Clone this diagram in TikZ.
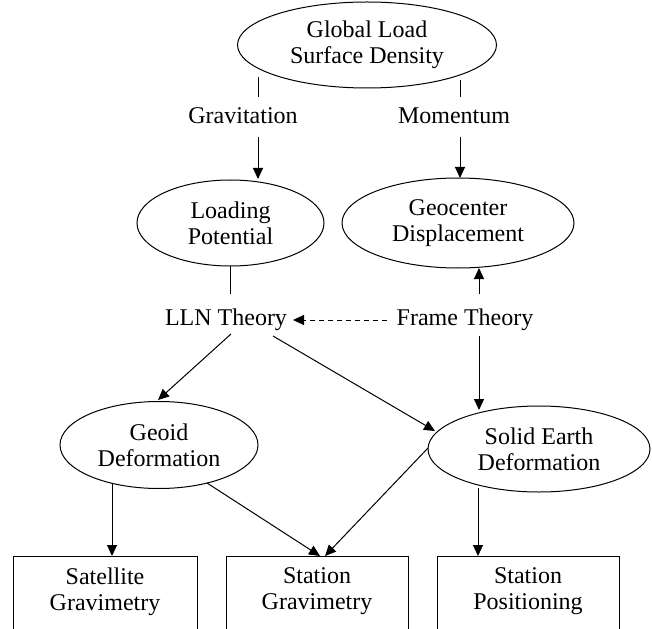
\documentclass[tikz,border=0pt]{standalone}
\usepackage{fontspec}
\setmainfont{Liberation Serif}
\usetikzlibrary{arrows.meta,shapes.geometric}
\begin{document}
\begin{tikzpicture}[x=1pt,y=-1pt,
  every node/.style={font=\fontsize{24}{26}\selectfont, align=center},
  oval/.style={draw, ellipse, inner sep=0pt, line width=1pt},
  box/.style={draw, rectangle, anchor=north, inner xsep=0pt, inner ysep=11pt, text depth=80pt, line width=1pt},
  lbl/.style={inner sep=0pt, anchor=base},
  conn/.style={line width=1pt},
  arr/.style={conn, -{Triangle[length=11pt,width=10pt]}},
  dsh/.style={arr, dash pattern=on 5pt off 4pt}
]
\useasboundingbox (0,0) rectangle (652,628);

% nodes
\node[oval, minimum width=259pt, minimum height=86pt] (glob) at (367,45) {Global Load\\Surface Density};
\node[lbl] (grav) at (243,124) {Gravitation};
\node[lbl] (mom) at (454,124) {Momentum};
\node[oval, minimum width=187pt, minimum height=86pt] (load) at (230.5,223) {Loading\\Potential};
\node[oval, minimum width=232pt, minimum height=90pt] (geoc) at (458,223) {Geocenter\\Displacement};
\node[lbl] (lln) at (226,325) {LLN Theory};
\node[lbl] (frame) at (465,325) {Frame Theory};
\node[oval, minimum width=198pt, minimum height=87pt] (geoid) at (159,445) {Geoid\\Deformation};
\node[oval, minimum width=222pt, minimum height=86pt] (solid) at (539,449) {Solid Earth\\Deformation};
\node[box, minimum width=184pt] (sat) at (105,556) {Satellite\\Gravimetry};
\node[box, minimum width=182pt] (sgrav) at (317,556) {Station\\Gravimetry};
\node[box, minimum width=182pt] (spos) at (528,556) {Station\\Positioning};

% connector end points
\coordinate (gA) at (258,77);  \coordinate (gB) at (258,97);
\coordinate (gC) at (258,137); \coordinate (gD) at (258,179);
\coordinate (mA) at (460,80);  \coordinate (mB) at (460,97);
\coordinate (mC) at (460,137); \coordinate (mD) at (460,178);
\coordinate (lA) at (230,266); \coordinate (lB) at (230,294);
\coordinate (fA) at (479,294); \coordinate (fB) at (479,268);
\coordinate (fC) at (387,320); \coordinate (fD) at (293,320);
\coordinate (nA) at (231,334); \coordinate (nB) at (158,400);
\coordinate (nC) at (273,336); \coordinate (nD) at (435,431);
\coordinate (fE) at (479,336); \coordinate (fF) at (479,410);
\coordinate (dA) at (112,483); \coordinate (dB) at (112,556);
\coordinate (dC) at (207,483); \coordinate (dD) at (320,556);
\coordinate (sA) at (428,448); \coordinate (sB) at (325,556);
\coordinate (sC) at (478,488); \coordinate (sD) at (478,556);

% connectors
\draw[conn] (gA) -- (gB);
\draw[arr] (gC) -- (gD);
\draw[conn] (mA) -- (mB);
\draw[arr] (mC) -- (mD);
\draw[conn] (lA) -- (lB);
\draw[arr] (fA) -- (fB);
\draw[dsh] (fC) -- (fD);
\draw[arr] (nA) -- (nB);
\draw[arr] (nC) -- (nD);
\draw[arr] (fE) -- (fF);
\draw[arr] (dA) -- (dB);
\draw[arr] (dC) -- (dD);
\draw[arr] (sA) -- (sB);
\draw[arr] (sC) -- (sD);
\end{tikzpicture}
\end{document}
